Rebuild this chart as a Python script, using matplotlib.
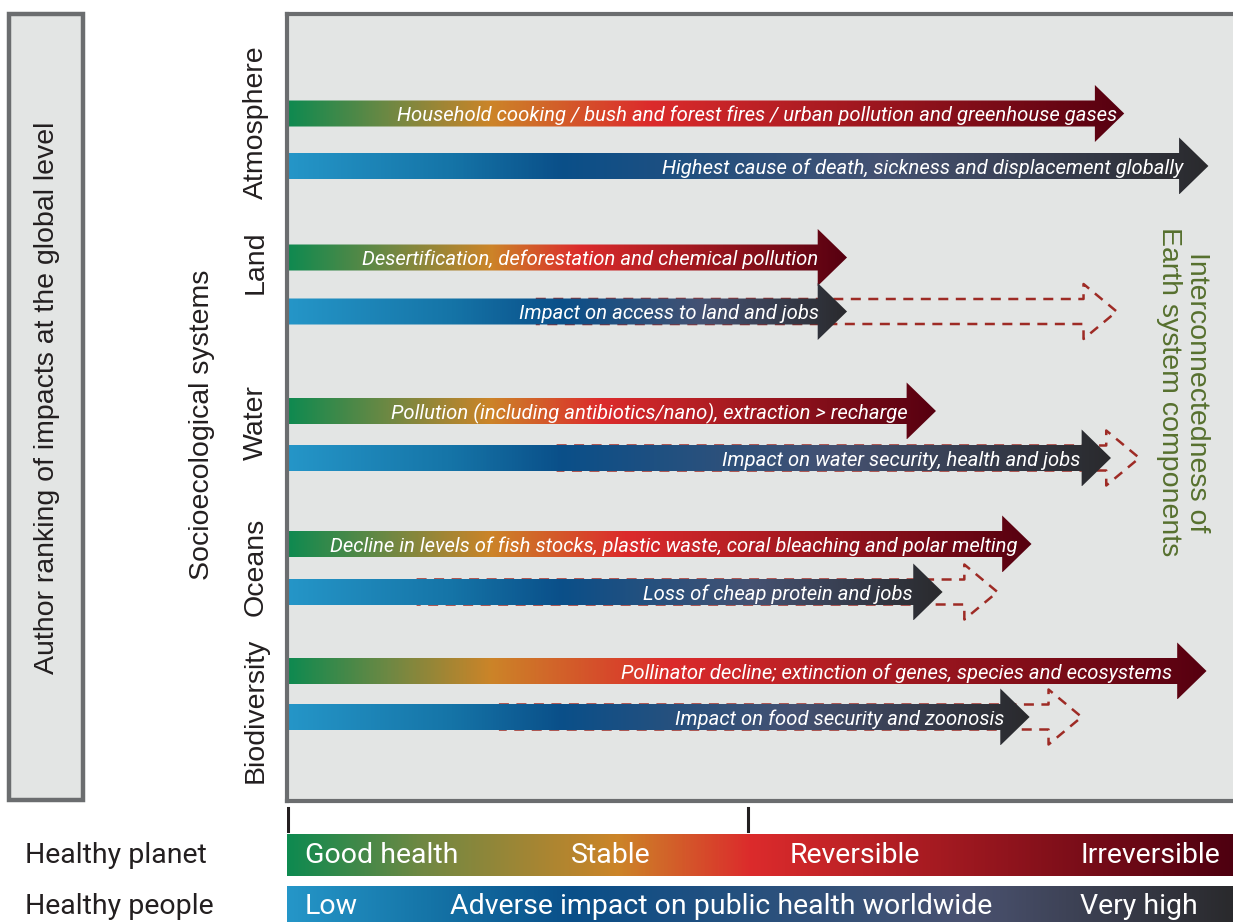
import numpy as np
import matplotlib
matplotlib.use('Agg')
from matplotlib import pyplot as plt
from matplotlib.colors import LinearSegmentedColormap
from matplotlib.patches import Polygon, Rectangle

W, H = 1233, 922

# data: arrow tips on a 0-100 "impact" scale
systems = ['Atmosphere', 'Land', 'Water', 'Oceans', 'Biodiversity']
planet_tip = [88.5, 59.2, 68.6, 78.7, 97.2]
people_tip = [97.4, 59.2, 87.1, 69.3, 78.5]
dash_start = [None, 26.3, 28.5, 13.7, 22.4]
dash_tip = [None, 87.7, 90.1, 75.1, 84.0]
planet_text = ['Household cooking / bush and forest fires / urban pollution and greenhouse gases',
               'Desertification, deforestation and chemical pollution',
               'Pollution (including antibiotics/nano), extraction > recharge',
               'Decline in levels of fish stocks, plastic waste, coral bleaching and polar melting',
               'Pollinator decline; extinction of genes, species and ecosystems']
people_text = ['Highest cause of death, sickness and displacement globally',
               'Impact on access to land and jobs',
               'Impact on water security, health and jobs',
               'Loss of cheap protein and jobs',
               'Impact on food security and zoonosis']
planet_scale = ['Good health', 'Stable', 'Reversible', 'Irreversible']
people_scale = ['Low', 'Adverse impact on public health worldwide', 'Very high']

# layout (pixel rows)
planet_y = [113.5, 257.5, 411, 544, 671]
people_y = [166, 311.5, 458, 592, 717]
label_y = [122, 262, 423, 567, 710]

BORDER = '#6b6d6f'
PANEL = '#e3e5e4'
DASH = '#9e2b25'
GREEN = '#56702e'

def planet_cmap(tip):
    o = 21.5 / tip
    r = (21.5 + 0.25 * (tip - 21.5)) / tip
    return LinearSegmentedColormap.from_list('p', [(0, '#0e8a50'), (o * 0.5, '#6f8843'),
        (o, '#cc8428'), (r, '#dc2b2c'), (1, '#560010')])

def people_cmap(tip):
    b = 29.0 / tip
    s = (29.0 + 0.5 * (tip - 29.0)) / tip
    return LinearSegmentedColormap.from_list('q', [(0, '#2596c8'), (b * 0.6, '#1574a7'),
        (b, '#0a4f89'), (s, '#455272'), (1, '#2a2a2d')])

def grad_arrow(ax, x1, yc, cmap, bar_h=26, head_h=57, head_len=3.1):
    x0 = 0
    xb = x1 - head_len
    verts = [(x0, yc - bar_h / 2), (xb, yc - bar_h / 2), (xb, yc - head_h / 2), (x1, yc),
             (xb, yc + head_h / 2), (xb, yc + bar_h / 2), (x0, yc + bar_h / 2)]
    poly = Polygon(verts, closed=True, facecolor='none', edgecolor='none')
    ax.add_patch(poly)
    grad = np.linspace(0, 1, 512).reshape(1, -1)
    im = ax.imshow(grad, cmap=cmap, extent=[x0, x1, yc + head_h / 2, yc - head_h / 2],
                   aspect='auto', interpolation='bilinear', zorder=2)
    im.set_clip_path(poly)

def dash_arrow(ax, x0, x1, yc, bar_h=25, head_h=55, head_len=3.5):
    xb = x1 - head_len
    xs = [x0, xb, xb, x1, xb, xb, x0]
    ys = [yc - bar_h / 2, yc - bar_h / 2, yc - head_h / 2, yc, yc + head_h / 2, yc + bar_h / 2, yc + bar_h / 2]
    ax.plot(xs, ys, color=DASH, lw=1.8, ls=(0, (4, 3)), zorder=1.5)

fig = plt.figure(figsize=(W / 100, H / 100), dpi=100)

# background axes in pixel coords
bg = fig.add_axes([0, 0, 1, 1])
bg.set_xlim(0, W)
bg.set_ylim(H, 0)
bg.axis('off')
bg.add_patch(Rectangle((8.5, 14), 74, 786, facecolor=PANEL, edgecolor=BORDER, lw=3.2))
bg.text(47, 398, 'Author ranking of impacts at the global level', rotation=90, ha='center', va='center',
        fontsize=20.5, family='Liberation Sans', color='#231f20')
bg.text(202, 425, 'Socioecological systems', rotation=90, ha='center', va='center',
        fontsize=20.5, family='Liberation Sans', color='#231f20')
for name, y in zip(systems, label_y):
    bg.text(256, y, name, rotation=90, ha='center', va='center',
            fontsize=20.5, family='Liberation Sans', color='#231f20')
bg.text(25, 855, 'Healthy planet', ha='left', va='center', fontsize=20.5, family='Roboto', color='#231f20')
bg.text(25, 906, 'Healthy people', ha='left', va='center', fontsize=20.5, family='Roboto', color='#231f20')

# main panel
ax = fig.add_axes([287 / W, 1 - 801 / H, 1 - 287 / W, (801 - 14) / H])
ax.set_facecolor(PANEL)
for s in ['left', 'top', 'bottom']:
    ax.spines[s].set_color(BORDER)
    ax.spines[s].set_linewidth(3)
ax.spines['right'].set_visible(False)
ax.set_xticks([])
ax.set_yticks([])

for i in range(len(systems)):
    if dash_start[i] is not None:
        dash_arrow(ax, dash_start[i], dash_tip[i], people_y[i])
    grad_arrow(ax, planet_tip[i], planet_y[i], planet_cmap(planet_tip[i]))
    grad_arrow(ax, people_tip[i], people_y[i], people_cmap(people_tip[i]))

pad_p = [0.7, 3.0, 3.0, 1.5, 3.6]
pad_q = [2.7, 3.0, 3.2, 3.2, 2.7]
for i in range(len(systems)):
    ax.text(planet_tip[i] - pad_p[i], planet_y[i] + 2, planet_text[i], ha='right', va='center',
            color='white', style='italic', family='Roboto', fontsize=14.6, zorder=4)
    ax.text(people_tip[i] - pad_q[i], people_y[i] + 2, people_text[i], ha='right', va='center',
            color='white', style='italic', family='Roboto', fontsize=14.6, zorder=4)

ax.text(94.7, 392, 'Interconnectedness of\nEarth system components', rotation=-90,
        ha='center', va='center', multialignment='center', fontsize=20.5,
        family='Liberation Sans', color=GREEN, linespacing=1.1, zorder=4)

ax.set_xlim(0, 100)
ax.set_ylim(801, 14)

# bottom scale bars
sc = fig.add_axes([287 / W, 0, 1 - 287 / W, (922 - 806) / H])
sc.set_xlim(0, 100)
sc.set_ylim(922, 806)
sc.axis('off')
grad = np.linspace(0, 1, 512).reshape(1, -1)
pc = LinearSegmentedColormap.from_list('pb', [(0, '#0e8a50'), (0.14, '#6f8843'), (0.35, '#cc8428'),
                                              (0.49, '#dc2b2c'), (1, '#4e0010')])
qc = LinearSegmentedColormap.from_list('qb', [(0, '#2596c8'), (0.15, '#1574a7'), (0.30, '#0a4f89'),
                                              (0.72, '#4a5270'), (1, '#2a2a2d')])
sc.imshow(grad, cmap=pc, extent=[0, 100, 876, 834], aspect='auto', interpolation='bilinear')
sc.imshow(grad, cmap=qc, extent=[0, 100, 925, 886], aspect='auto', interpolation='bilinear')
sc.plot([0.1, 0.1], [808, 831], color='#231f20', lw=2.2)
sc.plot([48.7, 48.7], [808, 831], color='#231f20', lw=2.2)

sc.text(1.9, 855, planet_scale[0], ha='left', va='center', color='white', fontsize=20.5, family='Roboto')
sc.text(34.2, 855, planet_scale[1], ha='center', va='center', color='white', fontsize=20.5, family='Roboto')
sc.text(60.0, 855, planet_scale[2], ha='center', va='center', color='white', fontsize=20.5, family='Roboto')
sc.text(98.6, 855, planet_scale[3], ha='right', va='center', color='white', fontsize=20.5, family='Roboto')
sc.text(1.9, 906, people_scale[0], ha='left', va='center', color='white', fontsize=20.5, family='Roboto')
sc.text(45.9, 906, people_scale[1], ha='center', va='center', color='white', fontsize=20.5, family='Roboto')
sc.text(83.8, 906, people_scale[2], ha='left', va='center', color='white', fontsize=20.5, family='Roboto')
sc.set_xlim(0, 100)
sc.set_ylim(922, 806)

fig.savefig('out.png', dpi=100)
